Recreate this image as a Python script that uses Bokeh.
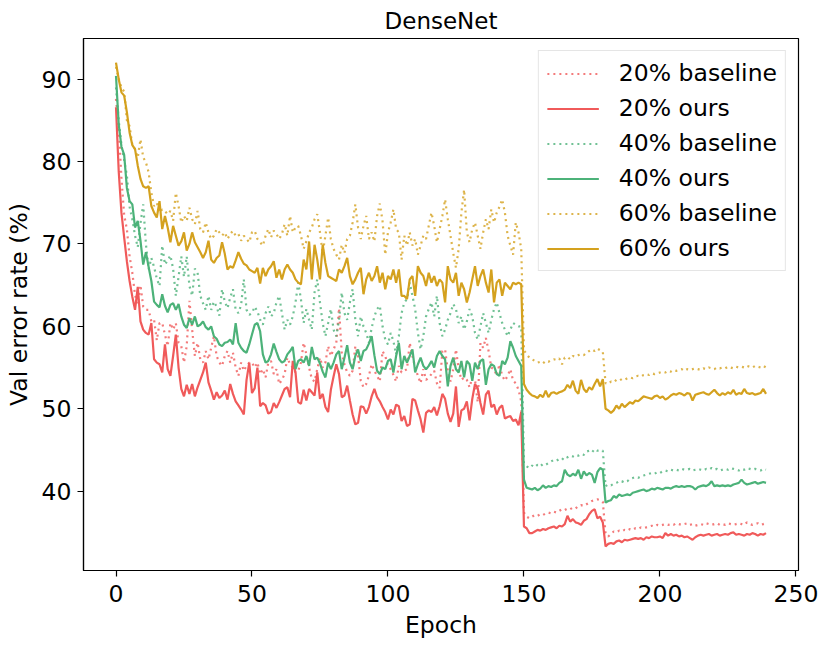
from bokeh.plotting import figure
from bokeh.models import Range1d, Legend, LegendItem, FixedTicker
from bokeh.embed import file_html
from bokeh.resources import INLINE

epochs = list(range(240))

red_base = [
    87.6, 84.0, 78.0, 73.5, 71.8, 68.5, 66.5, 63.8, 62.7, 65.0,
    62.4, 62.0, 62.0, 60.6, 60.8, 58.3, 60.4, 60.4, 59.0, 57.6,
    60.4, 59.6, 60.4, 58.0, 57.6, 55.6, 57.6, 63.1, 59.6, 56.4,
    58.0, 56.0, 55.6, 57.0, 56.0, 57.4, 58.8, 56.4, 55.6, 55.2,
    56.4, 57.0, 55.6, 56.8, 55.0, 54.0, 55.6, 54.6, 55.2, 55.6,
    55.6, 55.0, 55.6, 54.2, 54.8, 53.8, 55.6, 55.8, 54.2, 54.8,
    53.0, 53.5, 54.2, 56.2, 55.4, 55.0, 54.4, 54.6, 55.6, 58.0,
    56.6, 55.0, 53.6, 53.3, 54.8, 56.2, 55.0, 55.6, 57.6, 56.4,
    57.2, 58.0, 62.2, 56.8, 55.4, 54.4, 54.0, 54.6, 57.6, 56.4,
    53.4, 52.6, 53.0, 54.0, 55.4, 54.6, 54.0, 53.3, 57.0, 56.4,
    55.2, 54.8, 54.1, 53.3, 55.2, 54.4, 54.6, 54.8, 58.0, 56.4,
    55.0, 54.0, 53.1, 54.8, 53.5, 53.8, 54.2, 54.6, 53.1, 52.5,
    57.0, 57.2, 54.6, 53.3, 54.8, 57.2, 54.8, 53.5, 53.8, 53.5,
    52.6, 53.8, 53.5, 50.8, 58.0, 57.4, 58.6, 57.0, 55.0, 54.8,
    54.0, 55.4, 54.0, 53.4, 54.0, 54.8, 53.4, 53.1, 52.3, 50.9,
    37.4, 36.9, 36.7, 36.9, 37.1, 37.0, 37.2, 37.1, 37.3, 37.4,
    37.3, 37.5, 37.4, 37.6, 37.8, 37.7, 37.9, 37.8, 38.0, 37.9,
    38.2, 38.3, 38.2, 38.4, 38.6, 38.8, 38.9, 39.0, 38.9, 38.7,
    34.9, 34.5, 34.8, 35.1, 35.0, 35.2, 35.1, 35.3, 35.2, 35.4,
    35.3, 35.5, 35.4, 35.6, 35.5, 35.6, 35.7, 35.8, 35.7, 35.9,
    35.8, 35.9, 36.0, 35.9, 36.0, 35.9, 36.1, 36.0, 35.9, 36.0,
    36.1, 35.9, 36.0, 35.8, 35.9, 36.0, 35.9, 36.1, 36.0, 35.9,
    36.0, 36.1, 35.9, 36.0, 35.9, 36.1, 36.0, 35.9, 36.0, 36.1,
    36.0, 35.9, 36.2, 36.0, 35.9, 36.0, 36.1, 35.9, 36.0, 36.1,
]

red_ours = [
    86.6, 78.8, 73.8, 70.8, 67.9, 65.5, 63.6, 62.0, 64.8, 60.6,
    59.6, 59.2, 59.0, 60.4, 56.0, 55.6, 55.4, 54.4, 57.8, 54.8,
    54.0, 56.4, 59.0, 55.0, 52.4, 51.5, 52.9, 51.8, 53.0, 51.5,
    52.6, 53.5, 54.4, 55.6, 53.2, 52.2, 51.1, 52.0, 51.3, 51.6,
    52.2, 51.1, 53.0, 51.8, 50.9, 50.4, 49.9, 49.3, 53.5, 55.6,
    51.9, 52.5, 55.0, 50.3, 50.7, 50.4, 49.4, 49.6, 50.7, 50.1,
    50.8, 51.6, 52.4, 52.6, 51.4, 55.8, 54.4, 50.8, 50.6, 52.3,
    51.0, 52.4, 52.0, 51.6, 54.4, 51.2, 51.8, 50.2, 49.6, 52.3,
    53.9, 55.4, 54.2, 51.4, 51.6, 52.8, 51.0, 49.3, 48.1, 48.3,
    50.3, 50.2, 49.4, 50.2, 51.5, 52.4, 51.4, 50.9, 50.2, 49.6,
    48.7, 49.9, 49.3, 50.5, 50.3, 48.5, 49.1, 47.9, 48.1, 51.2,
    51.0, 49.8, 48.7, 47.1, 49.5, 49.8, 49.6, 50.2, 49.2, 50.3,
    51.8, 51.2, 49.4, 48.4, 49.4, 52.7, 47.8, 49.8, 50.0, 50.9,
    48.6, 51.2, 53.0, 52.5, 50.7, 49.3, 51.7, 52.2, 50.2, 50.5,
    49.3, 50.1, 50.4, 48.8, 49.0, 49.1, 48.5, 48.7, 48.0, 49.6,
    35.7, 35.5, 34.9, 34.9, 35.1, 35.3, 35.2, 35.4, 35.3, 35.5,
    35.6, 35.7, 35.5, 35.8, 35.7, 36.0, 37.0, 36.3, 36.6, 36.2,
    36.1, 35.9, 36.4, 36.6, 37.2, 37.6, 37.8, 36.7, 36.9, 36.2,
    33.3, 33.6, 33.7, 33.6, 33.9, 34.0, 33.8, 34.1, 34.0, 34.1,
    34.2, 34.3, 34.2, 34.3, 34.1, 34.4, 34.3, 34.5, 34.4, 34.4,
    34.5, 34.3, 34.9, 34.6, 34.8, 34.6, 34.7, 34.5, 34.6, 34.4,
    34.5, 34.3, 34.1, 34.4, 34.6, 34.7, 34.6, 34.7, 34.8, 34.6,
    34.7, 34.8, 34.6, 34.7, 34.8, 34.7, 34.9, 35.0, 34.7, 34.8,
    34.7, 34.6, 34.8, 34.7, 34.9, 34.8, 34.6, 34.8, 34.7, 34.9,
]

green_base = [
    89.0, 85.0, 82.0, 80.2, 78.3, 74.5, 73.0, 71.0, 69.6, 72.5,
    74.8, 70.0, 66.9, 68.3, 67.2, 65.8, 64.9, 69.8, 67.5, 68.0,
    68.6, 67.0, 63.7, 66.0, 68.5, 66.0, 68.5, 64.9, 63.7, 67.0,
    66.5, 63.7, 62.8, 62.0, 63.7, 62.0, 63.0, 62.4, 61.3, 64.5,
    63.0, 62.2, 63.5, 64.5, 62.0, 61.6, 62.6, 65.7, 62.0, 61.4,
    61.6, 62.4, 61.8, 60.8, 60.2, 61.6, 62.4, 61.2, 61.6, 62.9,
    63.7, 61.6, 59.6, 60.8, 60.2, 61.2, 62.9, 65.3, 63.3, 60.4,
    62.1, 60.8, 59.6, 64.1, 65.7, 62.9, 60.4, 58.8, 60.4, 62.1,
    59.6, 58.8, 60.8, 64.1, 61.6, 60.8, 62.9, 64.5, 60.8, 58.8,
    61.2, 60.0, 59.2, 58.0, 59.8, 61.2, 62.1, 62.5, 60.0, 58.4,
    57.8, 59.2, 58.2, 56.6, 58.8, 61.6, 62.9, 63.3, 65.3, 63.7,
    62.1, 59.2, 57.2, 58.8, 61.2, 62.1, 62.9, 61.2, 63.7, 60.4,
    58.8, 59.6, 60.8, 61.6, 62.7, 62.1, 60.4, 61.2, 59.6, 60.6,
    62.1, 61.2, 59.2, 58.4, 60.0, 61.6, 60.4, 59.2, 60.8, 62.1,
    62.9, 61.6, 60.4, 59.6, 58.8, 59.6, 60.4, 60.2, 60.0, 60.0,
    43.4, 43.0, 42.8, 43.1, 42.9, 43.2, 43.0, 43.3, 43.2, 43.4,
    43.6, 43.8, 43.7, 43.9, 43.8, 44.2, 44.1, 44.3, 44.2, 44.4,
    44.3, 44.5, 44.4, 44.8, 44.9, 44.7, 45.1, 44.9, 45.0, 44.9,
    40.6, 40.8, 40.7, 40.9, 41.0, 41.2, 41.1, 41.3, 41.2, 41.5,
    41.6, 41.7, 41.6, 41.8, 41.9, 42.0, 42.1, 42.2, 42.1, 42.3,
    42.2, 42.4, 42.5, 42.4, 42.6, 42.5, 42.6, 42.5, 42.7, 42.6,
    42.6, 42.7, 42.5, 42.6, 42.7, 42.6, 42.5, 42.7, 42.6, 42.8,
    42.6, 42.7, 42.5, 42.6, 42.7, 42.6, 42.8, 42.7, 42.6, 42.5,
    42.7, 42.6, 42.8, 42.7, 42.6, 42.7, 42.6, 42.5, 42.7, 42.6,
]

green_ours = [
    90.4, 84.5, 81.8, 80.8, 76.8, 75.2, 74.8, 72.0, 72.8, 70.4,
    67.5, 69.0, 67.2, 65.5, 63.0, 62.6, 62.3, 63.9, 62.5, 61.7,
    62.6, 62.8, 62.0, 62.7, 61.2, 60.2, 59.8, 61.0, 60.2, 61.2,
    60.0, 60.2, 60.6, 59.9, 59.6, 60.0, 58.8, 58.5, 57.8, 57.6,
    58.0, 58.1, 58.4, 57.8, 60.4, 58.0, 57.4, 57.0, 56.8, 57.8,
    59.0, 60.2, 60.4, 59.4, 56.6, 55.6, 55.8, 56.6, 57.9, 56.9,
    56.0, 55.6, 55.8, 56.6, 57.0, 57.5, 54.8, 55.8, 56.0, 55.6,
    56.4, 55.2, 57.5, 56.0, 56.2, 55.5, 54.5, 53.8, 55.6, 54.8,
    55.6, 56.6, 57.0, 54.8, 56.2, 57.7, 55.6, 54.8, 56.4, 57.2,
    55.8, 57.0, 57.2, 57.9, 58.8, 56.5, 54.6, 54.2, 55.0, 54.8,
    55.8, 56.0, 54.4, 56.4, 58.0, 54.8, 56.4, 55.6, 56.4, 57.2,
    54.4, 55.4, 56.2, 55.2, 54.8, 55.2, 55.8, 55.0, 56.4, 57.0,
    56.4, 56.0, 52.7, 55.2, 56.2, 54.8, 54.4, 55.8, 53.8, 55.8,
    55.4, 53.4, 55.6, 54.8, 55.8, 56.0, 52.9, 54.8, 55.4, 55.2,
    54.2, 54.0, 55.8, 55.4, 56.2, 58.2, 57.4, 56.4, 55.8, 55.2,
    41.4, 40.4, 40.3, 40.2, 40.4, 40.1, 40.3, 40.7, 40.4, 40.6,
    40.5, 40.7, 40.6, 41.0, 41.2, 42.6, 42.0, 41.8, 42.1, 41.9,
    42.6, 41.5, 42.4, 41.9, 42.2, 42.0, 41.0, 42.3, 42.8, 42.6,
    38.6, 38.8, 38.9, 39.4, 39.2, 39.6, 39.4, 39.5, 39.6, 39.5,
    39.8, 39.9, 40.0, 40.1, 40.2, 40.0, 40.1, 40.3, 40.2, 40.4,
    40.3, 40.2, 40.4, 40.4, 40.3, 40.5, 40.6, 40.5, 40.6, 40.5,
    40.6, 40.6, 40.5, 40.2, 40.5, 40.6, 40.7, 40.6, 40.8, 41.2,
    40.6, 40.7, 40.6, 40.7, 40.6, 40.7, 40.6, 40.8, 40.9, 41.0,
    41.4, 41.0, 40.8, 40.9, 41.0, 41.1, 40.9, 41.0, 41.1, 41.0,
]

gold_base = [
    91.5, 90.0, 89.0, 88.5, 85.0, 84.3, 82.0, 81.5, 80.5, 82.7,
    80.5, 79.9, 78.7, 76.2, 74.6, 75.0, 73.8, 74.2, 74.0, 73.6,
    74.0, 72.8, 76.2, 74.6, 72.6, 73.4, 72.8, 74.4, 73.0, 72.4,
    74.0, 71.8, 71.4, 72.6, 71.4, 70.6, 71.0, 71.8, 71.4, 71.0,
    71.4, 70.6, 71.2, 71.6, 71.0, 71.2, 70.4, 71.0, 70.6, 70.2,
    71.4, 71.6, 70.6, 70.2, 69.8, 71.0, 71.8, 70.8, 71.6, 71.2,
    70.6, 71.2, 72.4, 71.0, 73.4, 71.4, 72.0, 72.2, 71.0, 69.4,
    70.3, 71.4, 72.0, 73.0, 73.6, 71.4, 68.9, 71.0, 73.2, 70.6,
    69.4, 68.7, 68.1, 69.9, 68.9, 70.6, 71.0, 72.6, 74.8, 72.0,
    70.6, 72.2, 73.4, 70.6, 71.4, 70.3, 73.4, 74.9, 72.8, 68.7,
    71.4, 72.6, 74.2, 71.8, 71.4, 68.1, 71.0, 69.8, 71.4, 69.8,
    70.6, 68.7, 69.8, 71.0, 70.6, 72.2, 73.8, 72.2, 70.2, 71.8,
    73.4, 75.4, 73.0, 71.0, 68.9, 67.1, 69.4, 73.8, 76.6, 71.4,
    70.2, 71.8, 72.6, 71.0, 69.4, 71.4, 73.0, 71.8, 74.2, 72.6,
    73.8, 74.5, 75.4, 73.8, 71.0, 69.8, 68.7, 72.6, 71.4, 69.4,
    57.1, 56.6, 56.2, 56.0, 55.8, 55.6, 55.7, 55.5, 55.8, 55.7,
    55.9, 56.0, 55.9, 56.1, 55.4, 56.2, 56.3, 56.0, 56.4, 56.3,
    56.5, 56.6, 56.5, 56.8, 57.0, 57.2, 57.0, 57.3, 57.1, 56.9,
    53.1, 53.0, 53.3, 53.2, 53.5, 53.4, 53.6, 53.5, 53.7, 53.8,
    53.7, 53.9, 54.0, 53.9, 54.1, 54.2, 54.1, 54.3, 54.2, 54.3,
    54.4, 54.5, 54.4, 54.6, 54.5, 54.7, 54.6, 54.7, 54.8, 54.6,
    54.8, 54.7, 54.8, 54.9, 54.8, 54.7, 54.9, 54.8, 55.0, 54.9,
    54.8, 55.0, 54.9, 55.0, 54.9, 55.1, 55.0, 54.9, 55.1, 55.0,
    55.1, 55.0, 55.2, 55.1, 55.0, 55.2, 55.1, 55.0, 55.2, 55.0,
]

gold_ours = [
    92.0, 90.0, 88.4, 88.0, 86.0, 83.5, 82.0, 81.5, 79.5, 77.9,
    77.0, 76.8, 77.0, 74.6, 73.8, 73.2, 75.2, 71.8, 73.4, 72.0,
    70.2, 72.2, 71.0, 69.8, 70.3, 71.4, 69.2, 70.0, 71.4, 70.2,
    69.6, 69.0, 68.3, 69.0, 70.4, 68.1, 67.7, 68.3, 68.6, 70.2,
    68.8, 66.9, 67.3, 67.1, 68.0, 69.0, 68.2, 67.6, 67.4, 66.9,
    66.7, 66.5, 67.1, 65.2, 67.1, 66.1, 66.9, 67.3, 67.9, 65.9,
    66.9, 65.7, 66.9, 67.5, 66.9, 66.5, 65.7, 65.3, 65.1, 68.1,
    66.9, 70.3, 65.7, 69.9, 68.1, 65.7, 69.9, 67.7, 66.1, 65.9,
    65.7, 65.5, 66.9, 66.5, 67.3, 68.3, 66.1, 65.1, 65.7, 66.5,
    67.1, 63.9, 65.7, 66.5, 65.5, 66.1, 67.3, 65.3, 66.5, 64.5,
    66.1, 65.7, 66.9, 65.3, 66.9, 63.7, 63.7, 63.3, 65.7, 66.1,
    63.7, 67.3, 66.5, 66.1, 64.9, 66.5, 65.3, 66.1, 64.9, 65.7,
    65.3, 62.9, 67.3, 65.7, 65.3, 66.5, 63.7, 65.3, 64.5, 62.9,
    64.1, 65.7, 67.3, 64.9, 66.1, 66.9, 65.3, 64.1, 66.9, 62.9,
    65.3, 65.7, 63.7, 65.3, 64.9, 64.5, 65.3, 65.1, 65.3, 65.1,
    53.0, 52.3, 51.9, 51.6, 51.5, 51.3, 51.7, 51.4, 52.2, 51.4,
    51.9, 52.0, 51.8, 52.0, 52.1, 52.3, 52.9, 52.5, 53.4, 52.2,
    51.8, 53.5, 52.4, 52.0, 52.6, 52.3, 53.0, 53.6, 52.7, 53.6,
    50.0, 49.8, 49.5, 49.8, 50.4, 50.0, 50.6, 50.2, 50.5, 50.8,
    50.6, 51.0, 50.9, 51.2, 51.5, 51.4, 51.3, 51.2, 51.5, 51.6,
    51.3, 51.5, 51.1, 51.3, 51.6, 51.8, 51.7, 51.9, 51.8, 51.6,
    51.9, 51.8, 51.0, 51.7, 51.8, 51.9, 52.0, 51.8, 51.7, 52.0,
    52.3, 51.9, 51.6, 51.9, 51.7, 52.0, 51.8, 52.3, 51.7, 51.9,
    51.8, 52.4, 51.9, 51.8, 51.9, 51.7, 51.8, 51.9, 52.4, 51.8,
]

series_labels = ["20% baseline", "20% ours", "40% baseline", "40% ours",
                 "60% baseline", "60% ours"]
x_ticks = [0, 50, 100, 150, 200, 250]
y_ticks = [40, 50, 60, 70, 80, 90]

RED = "#F05A5A"
GREEN = "#4CB279"
GOLD = "#D4A11E"
FONT = "DejaVu Sans"
FS = "23.5px"

all_vals = red_base + red_ours + green_base + green_ours + gold_base + gold_ours
ymin, ymax = min(all_vals), max(all_vals)
ypad = (ymax - ymin) * 0.05
xpad = (epochs[-1] - epochs[0]) * 0.05

p = figure(width=831, height=648, output_backend="svg", toolbar_location=None,
           x_range=Range1d(epochs[0] - xpad, epochs[-1] + xpad),
           y_range=Range1d(ymin - ypad, ymax + ypad),
           min_border_left=83, min_border_right=33, min_border_top=38,
           min_border_bottom=78)

p.title.text = "DenseNet"
p.title.align = "center"
p.title.text_font = FONT
p.title.text_font_size = "23px"
p.title.text_font_style = "normal"
p.title.text_color = "black"
p.title.standoff = 9

p.xgrid.visible = False
p.ygrid.visible = False
p.outline_line_color = "black"
p.outline_line_alpha = 1.0
p.outline_line_width = 1.2
p.background_fill_color = "white"
p.border_fill_color = "white"

p.xaxis.ticker = FixedTicker(ticks=x_ticks)
p.yaxis.ticker = FixedTicker(ticks=y_ticks)
for ax in (p.xaxis[0], p.yaxis[0]):
    ax.axis_line_color = "black"
    ax.axis_line_width = 1.2
    ax.major_tick_line_color = "black"
    ax.major_tick_line_width = 1.2
    ax.major_tick_out = 6
    ax.major_tick_in = 0
    ax.minor_tick_line_color = None
    ax.major_label_text_font = FONT
    ax.major_label_text_font_size = FS
    ax.major_label_text_color = "black"
    ax.axis_label_text_font = FONT
    ax.axis_label_text_font_size = FS
    ax.axis_label_text_font_style = "normal"
    ax.axis_label_text_color = "black"
p.xaxis.major_label_standoff = 8
p.xaxis.axis_label_standoff = 6
p.yaxis.major_label_standoff = 6
p.yaxis.axis_label_standoff = 6
p.xaxis.axis_label = "Epoch"
p.yaxis.axis_label = "Val error rate (%)"

specs = [
    (red_base, RED, True),
    (red_ours, RED, False),
    (green_base, GREEN, True),
    (green_ours, GREEN, False),
    (gold_base, GOLD, True),
    (gold_ours, GOLD, False),
]
items = []
for (vals, col, dotted), lab in zip(specs, series_labels):
    if dotted:
        r = p.line(epochs, vals, line_color=col, line_width=2.2,
                   line_dash="2 4", line_alpha=0.8)
    else:
        r = p.line(epochs, vals, line_color=col, line_width=2.2)
    items.append(LegendItem(label=lab, renderers=[r]))

legend = Legend(items=items, location="top_right")
legend.margin = 12
legend.padding = 8
legend.spacing = 7
legend.glyph_width = 52
legend.glyph_height = 25
legend.label_height = 25
legend.label_standoff = 20
legend.label_text_font = FONT
legend.label_text_font_size = FS
legend.label_text_color = "black"
legend.border_line_color = "#cccccc"
legend.border_line_width = 1
legend.background_fill_alpha = 0.8
p.add_layout(legend)

open("out.html", "w").write(file_html(p, INLINE))
